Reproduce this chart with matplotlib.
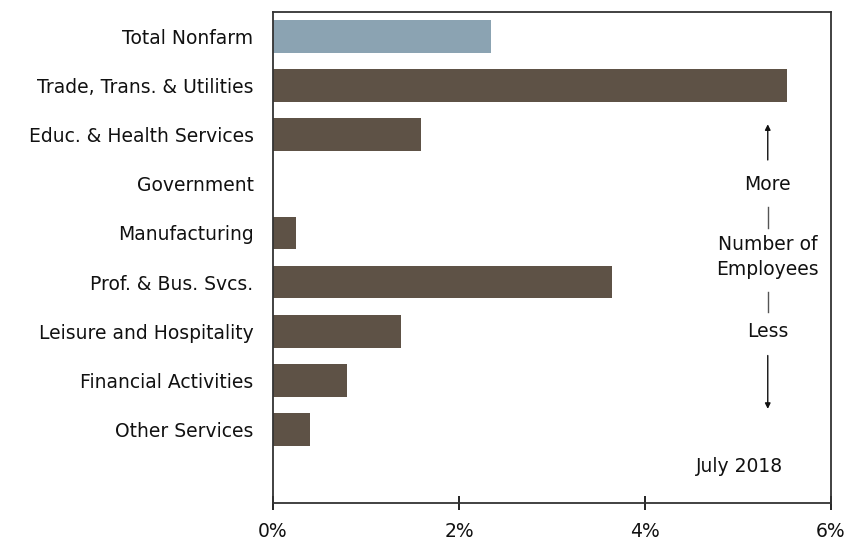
import matplotlib
matplotlib.use("Agg")
import matplotlib.pyplot as plt
from matplotlib.ticker import FuncFormatter

# data
categories = ["Total Nonfarm", "Trade, Trans. & Utilities", "Educ. & Health Services",
              "Government", "Manufacturing", "Prof. & Bus. Svcs.",
              "Leisure and Hospitality", "Financial Activities", "Other Services"]
values = [2.34, 5.53, 1.59, 0.0, 0.25, 3.64, 1.38, 0.80, 0.40]
xticks = [0, 2, 4, 6]

plt.rcParams['font.family'] = ['DejaVu Sans']
fs = 13.5
fig = plt.figure(figsize=(8.56, 5.48), dpi=100)
ax = fig.add_axes([273/856, 1-503/548, (831-273)/856, (503-12)/548])

colors = ['#8ba3b2'] + ['#5e5246'] * (len(categories) - 1)
pos = list(range(len(categories)))
ax.barh(pos, values, height=0.67, color=colors)

ax.set_ylim(9.5, -0.5)
ax.set_xlim(0, 6)
ax.set_yticks(pos)
ax.set_yticklabels(categories, fontsize=fs, color='#111111')
ax.tick_params(axis='y', length=0, pad=14)
ax.set_xticks(xticks)
ax.xaxis.set_major_formatter(FuncFormatter(lambda v, p: f"{v:.0f}%"))
ax.tick_params(axis='x', direction='inout', length=10, width=1.2, labelsize=fs,
               labelcolor='#111111', pad=9)
for s in ax.spines.values():
    s.set_linewidth(1.3)
    s.set_color('#333333')

# side annotation
ax_x = 5.32
tc = '#111111'
ax.annotate('', xy=(ax_x, 1.73), xytext=(ax_x, 2.57),
            arrowprops=dict(arrowstyle='-|>', color=tc, lw=1, mutation_scale=8))
ax.text(ax_x, 3.01, 'More', ha='center', va='center', fontsize=fs, color=tc)
ax.plot([ax_x, ax_x], [3.48, 3.89], color='#555555', lw=1)
ax.text(ax_x, 4.48, 'Number of\nEmployees', ha='center', va='center', fontsize=fs,
        color=tc, linespacing=1.4)
ax.plot([ax_x, ax_x], [5.21, 5.60], color='#555555', lw=1)
ax.text(ax_x, 6.01, 'Less', ha='center', va='center', fontsize=fs, color=tc)
ax.annotate('', xy=(ax_x, 7.64), xytext=(ax_x, 6.44),
            arrowprops=dict(arrowstyle='-|>', color=tc, lw=1, mutation_scale=8))
ax.text(5.02, 8.76, 'July 2018', ha='center', va='center', fontsize=fs, color=tc)

fig.savefig('out.png', dpi=100)
